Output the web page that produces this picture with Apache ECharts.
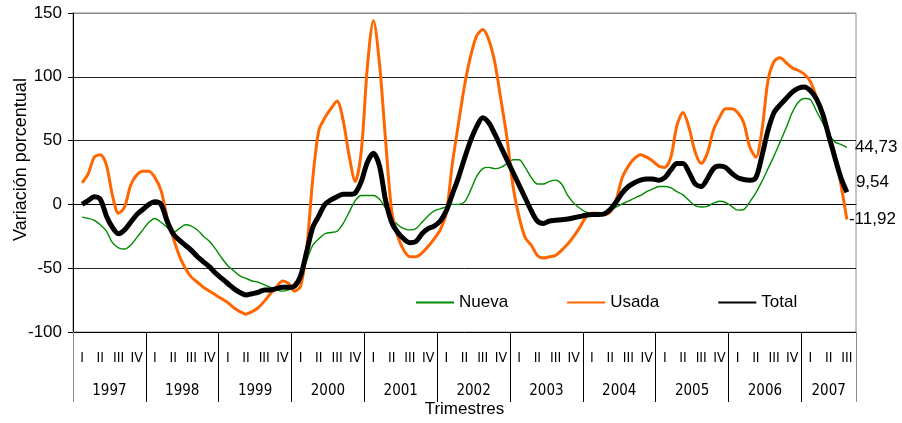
<!DOCTYPE html>
<html>
<head>
<meta charset="utf-8">
<script src="https://cdn.jsdelivr.net/npm/echarts@6/dist/echarts.min.js"></script>
<style>
  html, body { margin: 0; padding: 0; background: #fff; }
  #chart { width: 902px; height: 423px; }
</style>
</head>
<body>
<div id="chart"></div>
<script>
// tick labels
var years = ['1997', '1998', '1999', '2000', '2001', '2002', '2003', '2004', '2005', '2006', '2007'];
var quarters = ['I', 'II', 'III', 'IV'];
var nQuarters = 43; // 1997-I .. 2007-III

// monthly points, first one at the middle of 1997-I, last one at the middle of 2007-III
var nueva = [
  -10, -11, -12.5, -16, -21, -30, -34, -35, -32, -26, -20, -14,
  -11, -14, -18, -22, -19, -16, -17, -20, -25, -29, -35, -42,
  -48, -52, -56, -58, -60, -61, -63, -65, -67, -68, -67, -65,
  -58, -44, -32, -27, -23, -22, -21, -15, -6, 3, 7, 7,
  7, 4, -3, -11, -16, -19, -20, -19, -14, -9, -5, -3.5,
  -2, 0, 0, 2, 11, 22, 28, 29, 28, 29, 32, 35,
  35, 29, 21, 16, 16, 18, 19, 16, 7, 1, -3, -6,
  -7, -7.5, -7, -5, -2, 0.5, 2.5, 5, 7, 10, 12, 14,
  14, 13, 10, 7.5, 3, -1, -2, -1.5, 1, 2.5, 1.5, -1.5,
  -4.5, -4, 2, 9, 18, 28, 38, 49, 60, 72, 80, 83,
  82, 73, 64, 55, 49, 47, 44.73
];
var usada = [
  17, 24, 37, 39, 31, 7, -7, -2, 15, 23, 26, 26,
  21, 11, -10, -26, -40, -50, -57, -61, -65, -68, -71, -74,
  -77, -81, -84, -86, -84, -81, -76, -70, -65, -60, -62, -68,
  -64, -35, 20, 58, 68, 75, 81, 66, 38, 18, 42, 108,
  144, 110, 50, -5, -25, -36, -41, -41, -38, -33, -27, -20,
  -7, 32, 63, 93, 116, 132, 137, 129, 111, 82, 52, 14,
  -10, -26, -32, -40, -42, -41, -40, -36, -31, -25, -18, -10,
  -7, -7, -8, -6, 4, 21, 30, 36, 39, 37, 34, 30,
  29, 37, 62, 72, 60, 41, 32, 40, 58, 68, 75, 75,
  72, 64, 45, 37, 58, 97, 112, 115, 111, 107, 105, 102,
  96, 84, 71, 55, 40, 16, -11.92
];
var total = [
  0, 3, 6, 4, -9, -18, -23, -20, -14, -8, -4, 0,
  2, 0, -13, -23, -28, -32, -36, -41, -45, -49, -54, -58,
  -62, -66, -69, -71, -70, -69, -67, -67, -66, -65, -65, -64,
  -56, -37, -18, -9, 0, 3.5, 6, 8, 8, 9, 18, 33,
  40, 30, 3, -14, -22, -27, -30, -29, -23, -19, -17, -13,
  -5, 8, 21, 36, 50, 61, 68, 64, 55, 45, 35, 25,
  15, 5, -5, -13, -15, -13, -12.5, -12, -11.5, -10.5, -9.5, -8.5,
  -8, -8, -7.5, -4, 2, 9, 14, 17, 19, 20, 20, 19,
  21, 27, 32, 32, 25, 16, 14, 20, 28, 30, 29, 24.5,
  21, 19.5, 19, 21, 38, 58, 72, 78, 83, 88, 91, 92,
  89, 82.5, 71, 54, 37, 21, 9.54
];

// x position in quarters: 3 points per quarter, starting at the middle of the first one
function toPoints(arr) {
  return arr.map(function (v, k) { return [0.5 + k / 3, v]; });
}
function fmt(v) {
  return v.toFixed(2).replace('.', ',');
}

var font = "'Liberation Sans', Arial, sans-serif";
var narrow = "'Liberation Sans Narrow', 'DejaVu Sans Condensed', 'Liberation Sans', sans-serif";

var chartDom = document.getElementById('chart');
var myChart = echarts.init(chartDom);
var option;

option = {
  animation: false,
  textStyle: { fontFamily: font },
  grid: {
    left: 73, right: 46, top: 13, bottom: 91,
    outerBoundsMode: 'none',
    show: true, borderColor: '#8c8c8c', borderWidth: 1
  },
  legend: {
    left: 410, top: 289,
    itemWidth: 38, itemHeight: 12, itemGap: 58,
    itemStyle: { opacity: 0 },
    textStyle: { fontSize: 17, color: '#000', fontFamily: font },
    data: ['Nueva', 'Usada', 'Total']
  },
  xAxis: [
    { // quarter labels, series go here
      type: 'value', position: 'bottom', min: 0, max: nQuarters, interval: 0.5,
      axisLine: { show: true, lineStyle: { color: '#000' } },
      axisTick: { show: false },
      splitLine: { show: false },
      axisLabel: {
        margin: 19, fontSize: 14, color: '#000', fontFamily: narrow,
        showMinLabel: true, showMaxLabel: true,
        formatter: function (v) {
          var q = Math.floor(v);
          if (Math.abs(v - q - 0.5) < 1e-6) return quarters[q % 4];
          return '';
        }
      }
    },
    { // year separators
      type: 'value', position: 'bottom', min: 0, max: nQuarters, interval: 4,
      axisLine: { show: false },
      axisTick: { show: true, length: 70, lineStyle: { color: '#000' } },
      splitLine: { show: false },
      axisLabel: { show: false }
    },
    { // closing line on the right
      type: 'value', position: 'bottom', min: 0, max: nQuarters, interval: nQuarters,
      axisLine: { show: false },
      axisTick: { show: true, length: 70, lineStyle: { color: '#8c8c8c' } },
      splitLine: { show: false },
      axisLabel: { show: false }
    },
    { // year labels
      type: 'value', position: 'bottom', min: 0, max: nQuarters, interval: 0.5,
      axisLine: { show: false },
      axisTick: { show: false },
      splitLine: { show: false },
      name: 'Trimestres',
      nameLocation: 'middle',
      nameGap: 69,
      nameMoveOverlap: false,
      nameTextStyle: { fontSize: 17, color: '#000' },
      axisLabel: {
        margin: 52, fontSize: 15, color: '#000', fontFamily: narrow,
        showMinLabel: true, showMaxLabel: true,
        formatter: function (v) {
          for (var i = 0; i < years.length; i++) {
            var c = (4 * i + Math.min(4 * i + 4, nQuarters)) / 2;
            if (Math.abs(v - c) < 1e-6) return years[i];
          }
          return '';
        }
      }
    }
  ],
  yAxis: {
    type: 'value', min: -100, max: 150, interval: 50,
    name: 'Variación porcentual',
    nameLocation: 'middle',
    nameGap: 43,
    nameMoveOverlap: false,
    nameTextStyle: { fontSize: 18, color: '#000', padding: [0, 0, 0, 26] },
    axisLine: { show: true, lineStyle: { color: '#000' } },
    axisTick: { show: true, length: 5, lineStyle: { color: '#000' } },
    axisLabel: { fontSize: 17, color: '#000', margin: 11 },
    splitLine: {
      lineStyle: { color: ['#000', '#222', '#222', '#222', '#222', '#8c8c8c'], width: 1 }
    }
  },
  series: [
    {
      name: 'Nueva', type: 'line', xAxisIndex: 0,
      data: toPoints(nueva),
      smooth: 0.3, showSymbol: false, symbol: 'none',
      lineStyle: { color: '#008a00', width: 1.4 },
      itemStyle: { color: '#008a00' },
      endLabel: {
        show: true, distance: 8, fontSize: 17, color: '#000',
        formatter: function (p) { return fmt(p.value[1]); }
      }
    },
    {
      name: 'Usada', type: 'line', xAxisIndex: 0,
      data: toPoints(usada),
      smooth: 0.3, showSymbol: false, symbol: 'none',
      lineStyle: { color: '#ff6600', width: 3 },
      itemStyle: { color: '#ff6600' },
      endLabel: {
        show: true, distance: 2, fontSize: 17, color: '#000',
        formatter: function (p) { return fmt(p.value[1]); }
      }
    },
    {
      name: 'Total', type: 'line', xAxisIndex: 0,
      data: toPoints(total),
      smooth: 0.3, showSymbol: false, symbol: 'none',
      lineStyle: { color: '#000', width: 5 },
      itemStyle: { color: '#000' },
      endLabel: {
        show: true, distance: 9, offset: [0, -10], fontSize: 17, color: '#000',
        formatter: function (p) { return fmt(p.value[1]); }
      }
    }
  ]
};

option && myChart.setOption(option);
</script>
</body>
</html>
